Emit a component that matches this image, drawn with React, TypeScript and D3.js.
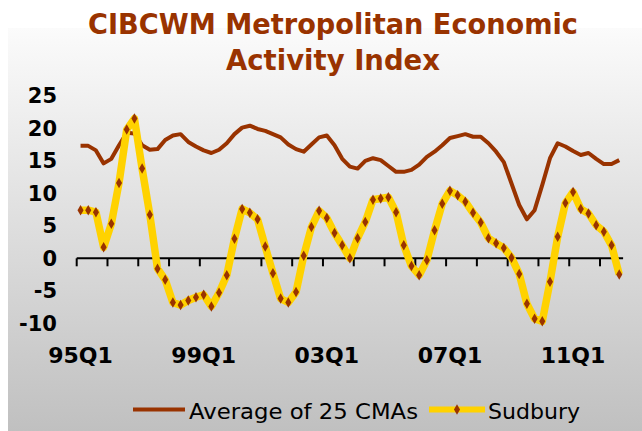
import React from "react";
import * as d3 from "d3";

// quarters 95Q1 .. 12Q3
const years = d3.range(1995, 2013);
const quarters = years.flatMap((y) =>
  [1, 2, 3, 4].map((q) => `${String(y % 100).padStart(2, "0")}Q${q}`)
).slice(0, 71);

const avg25 = [
  17.3, 17.3, 16.6, 14.6, 15.3, 17.4, 19.3, 19.2, 17.4, 16.7,
  16.8, 18.2, 18.9, 19.1, 17.9, 17.2, 16.6, 16.2, 16.7, 17.7,
  19.1, 20.1, 20.4, 19.9, 19.6, 19.1, 18.6, 17.5, 16.8, 16.4,
  17.5, 18.6, 18.9, 17.4, 15.3, 14.1, 13.8, 15.0, 15.4, 15.1,
  14.2, 13.3, 13.3, 13.6, 14.4, 15.6, 16.4, 17.4, 18.5, 18.8,
  19.1, 18.7, 18.7, 17.7, 16.4, 14.8, 11.5, 8.2, 6.0, 7.4,
  11.3, 15.4, 17.7, 17.2, 16.5, 15.9, 16.2, 15.3, 14.5, 14.5,
  15.1,
];

const sudbury = [
  7.4, 7.4, 7.1, 1.7, 5.3, 11.6, 19.8, 21.5, 13.8, 6.7,
  -1.6, -3.3, -6.8, -7.2, -6.5, -6.0, -5.6, -7.4, -5.3, -2.6,
  3.0, 7.6, 7.0, 6.0, 1.8, -2.3, -6.2, -6.8, -5.2, 0.4,
  4.8, 7.3, 6.2, 3.9, 2.0, 0.0, 3.1, 5.6, 9.0, 9.2,
  9.4, 7.1, 2.0, -1.2, -2.6, -0.3, 4.3, 8.4, 10.4, 9.7,
  8.7, 7.0, 5.5, 3.1, 2.3, 1.6, 0.1, -2.4, -7.0, -9.3,
  -9.7, -3.6, 3.3, 8.5, 10.2, 7.6, 6.9, 5.1, 4.1, 2.0,
  -2.5,
];

const yTicks = [25, 20, 15, 10, 5, 0, -5, -10];
const xLabels = ["95Q1", "99Q1", "03Q1", "07Q1", "11Q1"];
const seriesNames = ["Average of 25 CMAs", "Sudbury"];

const W = 642;
const H = 431;
const BROWN = "#993300";
const YELLOW = "#FFD200";

const App = () => {
  const x = d3.scaleBand().domain(quarters).range([76.7, 623.1]).padding(0);
  const cx = (c: string) => (x(c) as number) + x.bandwidth() / 2;
  const y = d3.scaleLinear().domain([-10, 25]).range([323.3, 95.8]);

  const line = d3
    .line<number>()
    .x((_, i) => cx(quarters[i]))
    .y((d) => y(d));

  const tickIdx = quarters.map((_, i) => i).filter((i) => i % 4 === 0);
  const diamond = d3.symbol().type(d3.symbolDiamond).size(32)();

  return (
    <svg
      width={W}
      height={H}
      style={{ position: "absolute", left: 0, top: 0 }}
      fontFamily="DejaVu Sans, Verdana, sans-serif"
    >
      <defs>
        <linearGradient id="bg" x1="0" y1="0" x2="0" y2="1">
          <stop offset="0" stopColor="#fbfbfb" />
          <stop offset="1" stopColor="#c0c0c0" />
        </linearGradient>
      </defs>
      <rect x={0} y={0} width={W} height={H} fill="#ffffff" />
      <rect x={8} y={28} width={W - 8} height={H - 28} fill="url(#bg)" />

      <text x={333} y={34} textAnchor="middle" fontSize={29} fontWeight="bold" fill={BROWN}
        textLength={490} lengthAdjust="spacingAndGlyphs">
        CIBCWM Metropolitan Economic
      </text>
      <text x={333} y={70} textAnchor="middle" fontSize={29} fontWeight="bold" fill={BROWN}
        textLength={214} lengthAdjust="spacingAndGlyphs">
        Activity Index
      </text>

      {yTicks.map((t) => (
        <text key={t} x={57} y={y(t)} dy="0.36em" textAnchor="end" fontSize={21} fontWeight="bold" fill="#000">
          {t}
        </text>
      ))}

      <line x1={76.7} x2={623.1} y1={y(0)} y2={y(0)} stroke="#000" strokeWidth={2} />
      {tickIdx.map((i) => (
        <line key={i} x1={x(quarters[i])} x2={x(quarters[i])} y1={y(0)} y2={y(0) + 8} stroke="#000" strokeWidth={2} />
      ))}
      {xLabels.map((l) => (
        <text key={l} x={cx(l)} y={363} textAnchor="middle" fontSize={22} fontWeight="bold" fill="#000">
          {l}
        </text>
      ))}

      <path d={line(avg25) || ""} fill="none" stroke={BROWN} strokeWidth={4} strokeLinejoin="round" />
      <path d={line(sudbury) || ""} fill="none" stroke={YELLOW} strokeWidth={7.5} strokeLinejoin="round" />
      {sudbury.map((v, i) => (
        <path key={i} d={diamond || ""} transform={`translate(${cx(quarters[i])},${y(v)})`} fill={BROWN} />
      ))}

      <g>
        <line x1={133} x2={185} y1={409.5} y2={409.5} stroke={BROWN} strokeWidth={4} />
        <text x={189} y={419} fontSize={21} fill="#000" textLength={229} lengthAdjust="spacingAndGlyphs">
          {seriesNames[0]}
        </text>
        <line x1={429} x2={485} y1={409.5} y2={409.5} stroke={YELLOW} strokeWidth={6} />
        <path d={diamond || ""} transform="translate(457,409.5)" fill={BROWN} />
        <text x={488} y={419} fontSize={21} fill="#000" textLength={92} lengthAdjust="spacingAndGlyphs">
          {seriesNames[1]}
        </text>
      </g>
    </svg>
  );
};

export default App;
